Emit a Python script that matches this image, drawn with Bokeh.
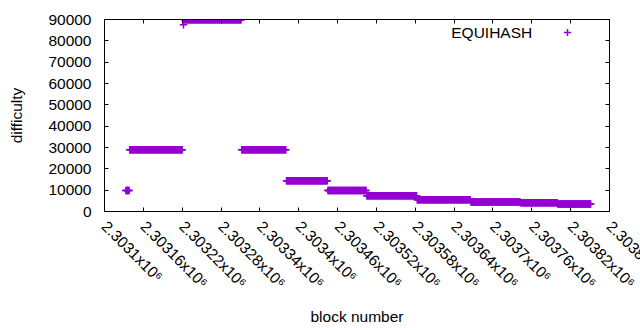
import math
from bokeh.plotting import figure
from bokeh.models import (Range1d, FixedTicker, LinearAxis, Legend, LegendItem,
                          Label, BasicTickFormatter)
from bokeh.embed import file_html
from bokeh.resources import INLINE

# --- data: runs of constant difficulty (first block, last block, difficulty)
seg_first = [2303133, 2303139, 2303222, 2303224, 2303312, 2303381, 2303445,
             2303505, 2303583, 2303666, 2303743, 2303800]
seg_last = [2303138, 2303220, 2303222, 2303311, 2303380, 2303444, 2303504,
            2303582, 2303665, 2303742, 2303799, 2303851]
seg_difficulty = [9800, 29000, 87500, 89900, 29000, 14400, 9800,
                  7400, 5500, 4450, 4080, 3500]

x_tick_values = [2303100, 2303160, 2303220, 2303280, 2303340, 2303400, 2303460,
                 2303520, 2303580, 2303640, 2303700, 2303760, 2303820, 2303880]
x_tick_labels = ["2.3031x10⁶", "2.30316x10⁶", "2.30322x10⁶", "2.30328x10⁶",
                 "2.30334x10⁶", "2.3034x10⁶", "2.30346x10⁶", "2.30352x10⁶",
                 "2.30358x10⁶", "2.30364x10⁶", "2.3037x10⁶", "2.30376x10⁶",
                 "2.30382x10⁶", "2.30388x10⁶"]
y_tick_values = [0, 10000, 20000, 30000, 40000, 50000, 60000, 70000, 80000, 90000]

blocks = []
difficulty = []
for f, l, d in zip(seg_first, seg_last, seg_difficulty):
    for b in range(f, l + 1):
        blocks.append(b)
        difficulty.append(d)

FONT = "Liberation Sans"
FS = "15.5px"
COLOR = "#9400D3"

p = figure(width=640, height=330, output_backend="svg", toolbar_location=None,
           x_range=Range1d(2303100, 2303880), y_range=Range1d(0, 90000),
           min_border_left=104, min_border_right=31, min_border_top=19,
           min_border_bottom=119, x_axis_label="block number",
           y_axis_label="difficulty")
p.grid.visible = False
p.outline_line_color = "black"
p.outline_line_width = 1
p.background_fill_color = "white"
p.border_fill_color = "white"

r = p.scatter(blocks, difficulty, marker="cross", size=7.5, line_color=COLOR,
              line_width=1.5)

# the last tick is listed second so that its label is not pulled back inside
# the canvas (it runs off the right edge, as in the original)
bottom_ticks = [x_tick_values[0], x_tick_values[-1]] + x_tick_values[1:-1]
xt_bottom = FixedTicker(ticks=bottom_ticks)
xt = FixedTicker(ticks=x_tick_values)
yt = FixedTicker(ticks=y_tick_values)

p.xaxis.ticker = xt_bottom
p.yaxis.ticker = yt
p.xaxis.major_label_overrides = {v: s for v, s in zip(x_tick_values, x_tick_labels)}
p.yaxis.formatter = BasicTickFormatter(use_scientific=False)
p.xaxis.major_label_orientation = -math.pi / 4

for ax in (p.xaxis, p.yaxis):
    ax.axis_line_color = "black"
    ax.major_tick_line_color = "black"
    ax.major_tick_in = 4
    ax.major_tick_out = 0
    ax.minor_tick_line_color = None
    ax.major_label_text_font = FONT
    ax.major_label_text_font_size = FS
    ax.major_label_text_color = "black"
    ax.axis_label_text_font = FONT
    ax.axis_label_text_font_size = FS
    ax.axis_label_text_font_style = "normal"
    ax.axis_label_text_color = "black"

p.yaxis.major_label_standoff = 13
p.yaxis.axis_label_standoff = 20
p.xaxis.major_label_standoff = 12
p.xaxis.axis_label_standoff = 8

# mirrored ticks on top and right (no labels)
top = LinearAxis(ticker=xt, major_tick_in=4, major_tick_out=0,
                 minor_tick_line_color=None, major_label_text_color=None,
                 axis_line_color="black", major_label_standoff=0)
right = LinearAxis(ticker=yt, major_tick_in=4, major_tick_out=0,
                   minor_tick_line_color=None, major_label_text_color=None,
                   axis_line_color="black", major_label_standoff=0)
p.add_layout(top, "above")
p.add_layout(right, "right")

legend = Legend(items=[LegendItem(label=" ", renderers=[r])], location=(454, 170),
                padding=0, margin=0, spacing=0, glyph_width=18, glyph_height=18,
                label_width=0, label_height=0, label_standoff=0,
                label_text_font_size="1px", border_line_color=None,
                background_fill_alpha=0)
p.add_layout(legend, "center")

p.add_layout(Label(x=427.7, y=178.7, x_units="screen", y_units="screen",
                   text="EQUIHASH", text_align="right", text_baseline="middle",
                   text_font=FONT, text_font_size=FS, text_color="black"))

open("out.html", "w").write(file_html(p, INLINE))
